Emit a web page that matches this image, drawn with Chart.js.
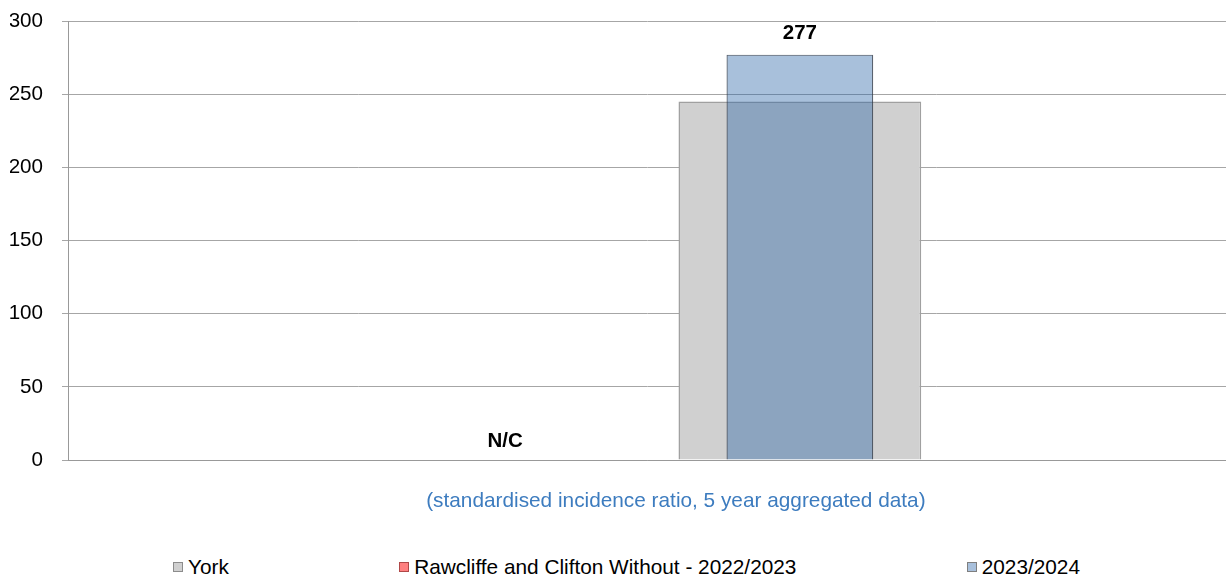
<!DOCTYPE html>
<html>
<head>
<meta charset="utf-8">
<script src="https://cdn.jsdelivr.net/npm/chart.js@4.4.1/dist/chart.umd.min.js"></script>
<style>
    body { margin: 0; background: #fff; font-family: "Liberation Sans", Arial, sans-serif; }
    #wrap { position: relative; width: 1226px; height: 576px; }
    #chartBox { position: absolute; left: 0; top: 0; width: 1226px; height: 520px; }
    #legend { position: absolute; left: 173px; top: 556px; width: 907px; display: flex; justify-content: space-between; font-size: 20.8px; line-height: 22px; color: #000; }
    #legend .item { display: flex; align-items: center; white-space: nowrap; }
    #legend .box { width: 8px; height: 8px; border: 1px solid; margin-right: 5px; }
</style>
</head>
<body>
<div id="wrap">
    <div id="chartBox"><canvas id="chart"></canvas></div>
    <div id="legend"></div>
</div>
<script>
// ward shown on the chart (only one category)
const wards = ['Rawcliffe and Clifton Without'];

// series values (standardised incidence ratio)
const yorkValues = [245];
const ward2022Values = [null];   // not calculated
const ward2023Values = [277];

// text printed above the bars
const ward2022Labels = ['N/C'];
const ward2023Labels = ['277'];

// y axis ticks
const yTicks = [0, 50, 100, 150, 200, 250, 300];

const seriesNames = ['York', 'Rawcliffe and Clifton Without - 2022/2023', '2023/2024'];
const axisTitle = '(standardised incidence ratio, 5 year aggregated data)';

const FONT = '"Liberation Sans", Arial, sans-serif';

// draws N/C and 277 above the bars
const barLabelPlugin = {
    id: 'barLabels',
    afterDatasetsDraw(chart) {
        const ctx = chart.ctx;
        const yScale = chart.scales.y;
        chart.data.datasets.forEach((ds, i) => {
            if (!ds.valueLabels) return;
            const meta = chart.getDatasetMeta(i);
            meta.data.forEach((bar, j) => {
                const v = ds.data[j];
                const top = yScale.getPixelForValue(v == null ? 0 : v);
                ctx.save();
                ctx.font = 'bold 20.5px ' + FONT;
                ctx.fillStyle = '#000';
                ctx.textAlign = 'center';
                ctx.textBaseline = 'middle';
                ctx.fillText(ds.valueLabels[j], bar.x + (v == null ? 11 : 0), top - (v == null ? 19 : 21));
                ctx.restore();
            });
        });
    }
};

// York shares the right-hand slot with 2023/2024 (x stacked, y not summed)
const datasets = [
    {
        label: seriesNames[0],
        data: yorkValues,
        stack: 'latest',
        order: 2,
        backgroundColor: '#d0d0d0',
        borderColor: '#a0a0a0',
        borderWidth: 1.5,
        categoryPercentage: 0.528,
        barPercentage: 0.794,
        legendColor: '#d0d0d0',
        legendBorder: '#8c8c8c'
    },
    {
        label: seriesNames[1],
        data: ward2022Values,
        valueLabels: ward2022Labels,
        stack: 'previous',
        order: 0,
        backgroundColor: '#ff8080',
        borderColor: '#b05050',
        borderWidth: 1,
        categoryPercentage: 0.528,
        barPercentage: 0.48,
        legendColor: '#ff8080',
        legendBorder: '#b04848'
    },
    {
        label: seriesNames[2],
        data: ward2023Values,
        valueLabels: ward2023Labels,
        stack: 'latest',
        order: 1,
        backgroundColor: 'rgba(38, 98, 166, 0.4)',
        borderColor: 'rgba(50, 60, 75, 0.8)',
        borderWidth: 1.2,
        categoryPercentage: 0.528,
        barPercentage: 0.48,
        legendColor: '#a8c0dc',
        legendBorder: '#7f7f7f'
    }
];

const chart = new Chart(document.getElementById('chart'), {
    type: 'bar',
    data: { labels: wards, datasets: datasets },
    options: {
        responsive: true,
        maintainAspectRatio: false,
        animation: false,
        layout: { padding: { left: 10, right: 0, top: 21, bottom: 6 } },
        scales: {
            x: {
                stacked: true,
                grid: { display: false, drawTicks: false },
                border: { color: '#999', width: 1 },
                ticks: { display: false },
                title: {
                    display: true,
                    text: '\u00a0'.repeat(10) + axisTitle,
                    color: '#3d7cbf',
                    font: { family: FONT, size: 20.8 },
                    padding: { top: 29, bottom: 0 }
                }
            },
            y: {
                stacked: false,
                min: yTicks[0],
                max: yTicks[yTicks.length - 1],
                afterBuildTicks: axis => { axis.ticks = yTicks.map(v => ({ value: v })); },
                afterFit: axis => {
                    axis.width = 58;
                    axis.paddingTop = 0;
                    axis.paddingBottom = 0;
                },
                grid: { color: '#a6a6a6', tickLength: 6, lineWidth: 1 },
                border: { color: '#999', width: 1 },
                ticks: {
                    color: '#000',
                    padding: 19,
                    font: { family: FONT, size: 20.6 }
                }
            }
        },
        plugins: {
            legend: { display: false },
            tooltip: { enabled: false }
        }
    },
    plugins: [barLabelPlugin]
});

// html legend below the chart, in dataset order
const legendEl = document.getElementById('legend');
chart.data.datasets.forEach(ds => {
    const item = document.createElement('div');
    item.className = 'item';
    const box = document.createElement('span');
    box.className = 'box';
    box.style.background = ds.legendColor;
    box.style.borderColor = ds.legendBorder;
    const txt = document.createElement('span');
    txt.textContent = ds.label;
    item.appendChild(box);
    item.appendChild(txt);
    legendEl.appendChild(item);
});
</script>
</body>
</html>
